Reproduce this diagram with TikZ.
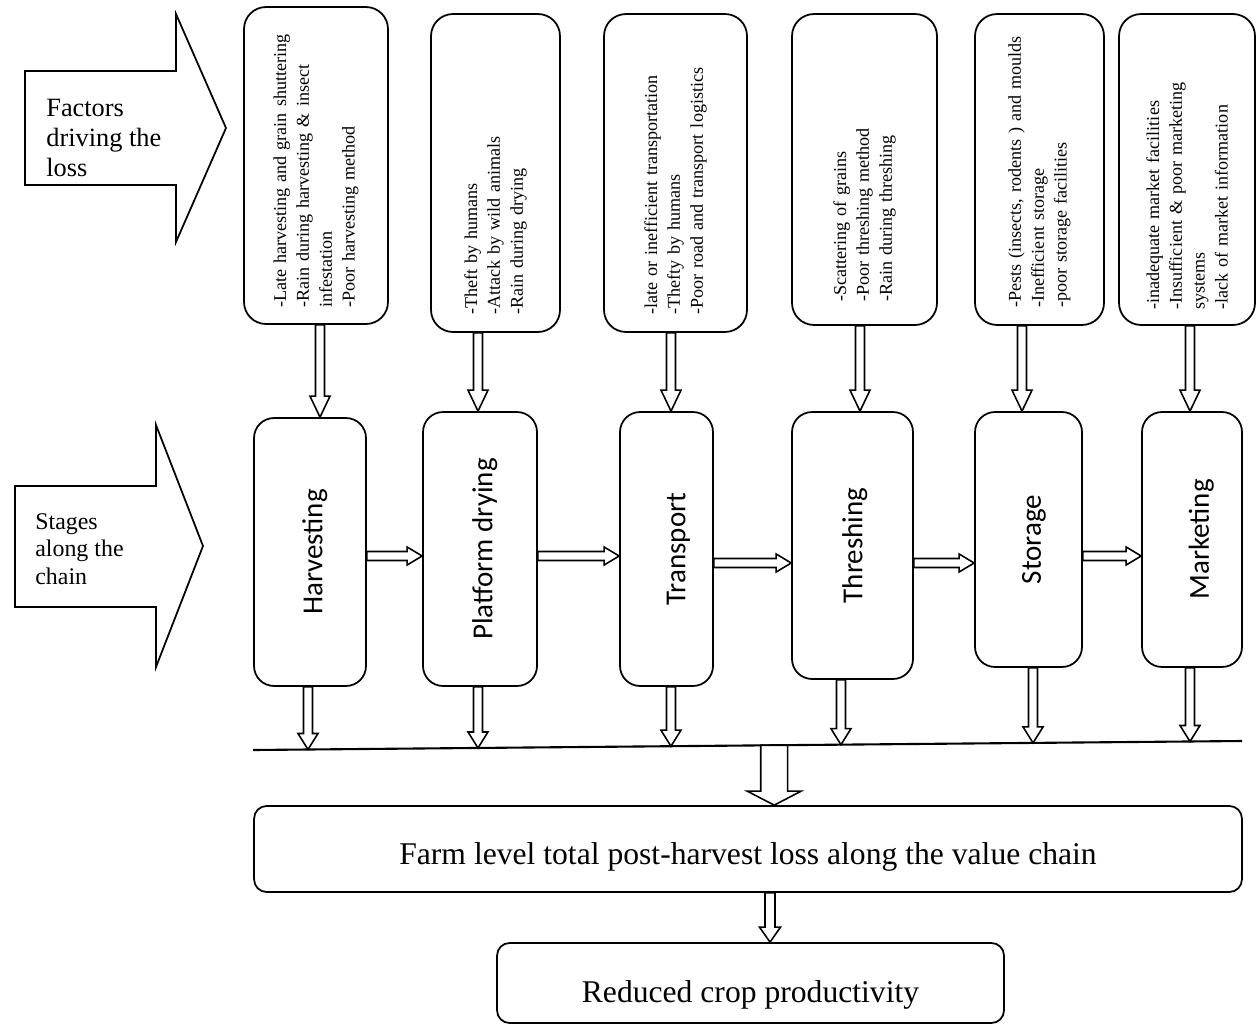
\documentclass[tikz,border=0pt]{standalone}
\usepackage{fontspec}
\setmainfont{Liberation Serif}
\newfontfamily\stagefont{Carlito}
\usetikzlibrary{calc}
\definecolor{BLACK}{HTML}{000000}
\tikzset{
  factor/.style={draw=BLACK, line width=1pt, rounded corners=0.44cm, rotate=90, align=left, inner sep=2pt, font=\fontsize{10.3}{13}\selectfont},
  stage/.style={draw=BLACK, line width=1pt, rounded corners=0.4cm, rotate=90, font=\stagefont\fontsize{16.5}{19}\selectfont},
  result/.style={draw=BLACK, line width=1pt, rounded corners=0.25cm, font=\fontsize{18}{21}\selectfont},
  fat/.style n args={3}{draw=BLACK, fill=white, line width=0.9pt, to path={
      ($(\tikztostart)!#1!90:(\tikztotarget)$)
      -- ($(\tikztotarget)!#3!(\tikztostart)!#1!-90:(\tikztostart)$)
      -- ($(\tikztotarget)!#3!(\tikztostart)!#2!-90:(\tikztostart)$)
      -- (\tikztotarget)
      -- ($(\tikztotarget)!#3!(\tikztostart)!#2!90:(\tikztostart)$)
      -- ($(\tikztotarget)!#3!(\tikztostart)!#1!90:(\tikztostart)$)
      -- ($(\tikztostart)!#1!-90:(\tikztotarget)$) -- cycle}},
  tfat/.style={fat={0.09cm}{0.2cm}{0.42cm}},
  bfat/.style={fat={0.09cm}{0.2cm}{0.32cm}},
  hfat/.style={fat={0.09cm}{0.18cm}{0.3cm}},
  farmfat/.style={fat={0.27cm}{0.54cm}{0.28cm}},
  redfat/.style={fat={0.1cm}{0.21cm}{0.3cm}}
}
\begin{document}
\begin{tikzpicture}[x=0.02cm, y=-0.02cm]
    \useasboundingbox (0,0) rectangle (1257,1024);
    %
    \draw[BLACK, line width=1pt] (25,71) -- (176,71) -- (176,14) -- (226,128) -- (176,242) -- (176,185) -- (25,185) -- cycle;
    \node[BLACK, anchor=west, align=left, inner sep=0pt, font=\fontsize{15}{17}\selectfont] (factors) at (46,138) {Factors\\driving the\\loss};
    \draw[BLACK, line width=1pt] (15,486) -- (156,486) -- (156,425) -- (203,546) -- (156,667) -- (156,607) -- (15,607) -- cycle;
    \node[BLACK, anchor=west, align=left, inner sep=0pt, font=\fontsize{13.6}{15.5}\selectfont] (stages) at (35,549) {Stages\\along the\\chain};
    %
    \node[factor, minimum width=6.34cm, minimum height=2.88cm, text width=5.7cm] (f1) at (316,165.5) {-Late harvesting and grain shuttering\\-Rain during harvesting \& insect\\infestation\\-Poor harvesting method};
    \node[factor, minimum width=6.36cm, minimum height=2.58cm, text width=5.68cm] (f2) at (495.5,173) {-Theft by humans\\-Attack by wild animals\\-Rain during drying};
    \node[factor, minimum width=6.36cm, minimum height=2.86cm, text width=5.68cm] (f3) at (675.5,173) {-late or inefficient transportation\\-Thefty by humans\\-Poor road and transport logistics};
    \node[factor, minimum width=6.22cm, minimum height=2.9cm, text width=5.3cm] (f4) at (864.5,169.5) {-Scattering of grains\\-Poor threshing method\\-Rain during threshing};
    \node[factor, minimum width=6.22cm, minimum height=2.58cm, text width=5.54cm] (f5) at (1039.5,169.5) {-Pests (insects, rodents ) and moulds\\-Inefficient storage\\-poor storage facilities};
    \node[factor, minimum width=6.22cm, minimum height=2.72cm, text width=5.62cm] (f6) at (1187,169.5) {-inadequate market facilities\\-Insufficient \& poor marketing\\systems\\-lack of market information};
    %
    \node[stage, minimum width=5.36cm, minimum height=2.24cm, text height=17pt] (s1) at (310,552) {Harvesting};
    \node[stage, minimum width=5.48cm, minimum height=2.28cm, text height=17pt] (s2) at (480,549) {Platform drying};
    \node[stage, minimum width=5.48cm, minimum height=1.86cm, text height=24pt] (s3) at (666.5,549) {Transport};
    \node[stage, minimum width=5.34cm, minimum height=2.42cm, text height=14pt] (s4) at (852.5,545.5) {Threshing};
    \node[stage, minimum width=5.1cm, minimum height=2.14cm, text height=17pt] (s5) at (1028.5,539.5) {Storage};
    \node[stage, minimum width=5.1cm, minimum height=2.0cm, text height=22pt] (s6) at (1192,539.5) {Marketing};
    %
    \node[result, minimum width=19.76cm, minimum height=1.72cm, text height=22pt] (farm) at (748,849) {Farm level total post-harvest loss along the value chain};
    \node[result, minimum width=10.14cm, minimum height=1.6cm, text height=26pt] (red) at (750.5,983) {Reduced crop productivity};
    %
    \coordinate (a1) at ($(s1.east)+(10,0)$);
    \coordinate (a2) at ($(s2.east)+(-2,0)$);
    \coordinate (a3) at ($(s3.east)+(4.5,0)$);
    \coordinate (a4) at ($(s4.east)+(7.5,0)$);
    \coordinate (a5) at ($(s5.east)+(-6.5,0)$);
    \coordinate (a6) at ($(s6.east)+(-2,0)$);
    \draw[tfat] (f1.west -| a1) to (a1);
    \draw[tfat] (f2.west -| a2) to (a2);
    \draw[tfat] (f3.west -| a3) to (a3);
    \draw[tfat] (f4.west -| a4) to (a4);
    \draw[tfat] (f5.west -| a5) to (a5);
    \draw[tfat] (f6.west -| a6) to (a6);
    %
    \coordinate (h1) at ($(s2.north)+(0,7)$);
    \coordinate (h2) at ($(s3.north)+(0,7)$);
    \coordinate (h3) at ($(s4.north)+(0,17.5)$);
    \coordinate (h4) at ($(s5.north)+(0,23.5)$);
    \coordinate (h5) at ($(s6.north)+(0,16.5)$);
    \draw[hfat] (s1.south |- h1) to (h1);
    \draw[hfat] (s2.south |- h2) to (h2);
    \draw[hfat] (s3.south |- h3) to (h3);
    \draw[hfat] (s4.south |- h4) to (h4);
    \draw[hfat] (s5.south |- h5) to (h5);
    %
    \coordinate (l1) at (253,750);
    \coordinate (l2) at (1242,741);
    \draw[BLACK, line width=1.2pt] (l1) -- (l2);
    \coordinate (t1) at ($(l1)!0.0556!(l2)$);
    \coordinate (t2) at ($(l1)!0.2275!(l2)$);
    \coordinate (t3) at ($(l1)!0.4226!(l2)$);
    \coordinate (t4) at ($(l1)!0.5945!(l2)$);
    \coordinate (t5) at ($(l1)!0.7887!(l2)$);
    \coordinate (t6) at ($(l1)!0.9474!(l2)$);
    \draw[bfat] (s1.west -| t1) to (t1);
    \draw[bfat] (s2.west -| t2) to (t2);
    \draw[bfat] (s3.west -| t3) to (t3);
    \draw[bfat] (s4.west -| t4) to (t4);
    \draw[bfat] (s5.west -| t5) to (t5);
    \draw[bfat] (s6.west -| t6) to (t6);
    %
    \coordinate (t7) at ($(l1)!0.527!(l2)$);
    \draw[farmfat] (t7) to (farm.north -| t7);
    \coordinate (a8) at ($(red.north)+(19.5,0)$);
    \draw[redfat] (farm.south -| a8) to (a8);
\end{tikzpicture}
\end{document}
